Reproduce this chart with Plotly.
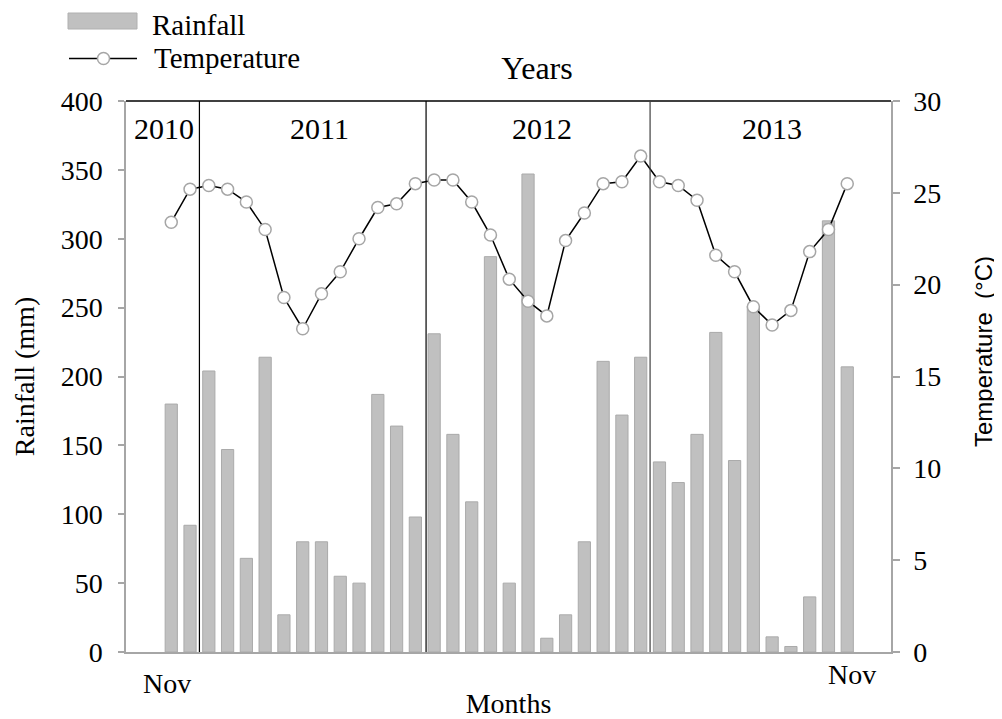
import plotly.graph_objects as go

# ---- data (Nov 2010 .. Nov 2013) ----
month_labels = [
    "Nov 2010", "Dec 2010",
    "Jan 2011", "Feb 2011", "Mar 2011", "Apr 2011", "May 2011", "Jun 2011",
    "Jul 2011", "Aug 2011", "Sep 2011", "Oct 2011", "Nov 2011", "Dec 2011",
    "Jan 2012", "Feb 2012", "Mar 2012", "Apr 2012", "May 2012", "Jun 2012",
    "Jul 2012", "Aug 2012", "Sep 2012", "Oct 2012", "Nov 2012", "Dec 2012",
    "Jan 2013", "Feb 2013", "Mar 2013", "Apr 2013", "May 2013", "Jun 2013",
    "Jul 2013", "Aug 2013", "Sep 2013", "Oct 2013", "Nov 2013",
]
rainfall = [180, 92,
            204, 147, 68, 214, 27, 80, 80, 55, 50, 187, 164, 98,
            231, 158, 109, 287, 50, 347, 10, 27, 80, 211, 172, 214,
            138, 123, 158, 232, 139, 251, 11, 4, 40, 313, 207]
temperature = [23.4, 25.2,
               25.4, 25.2, 24.5, 23.0, 19.3, 17.6, 19.5, 20.7, 22.5, 24.2, 24.4, 25.5,
               25.7, 25.7, 24.5, 22.7, 20.3, 19.1, 18.3, 22.4, 23.9, 25.5, 25.6, 27.0,
               25.6, 25.4, 24.6, 21.6, 20.7, 18.8, 17.8, 18.6, 21.8, 23.0, 25.5]
years = ["2010", "2011", "2012", "2013"]
year_boundaries = [1.5, 13.57, 25.5]

x = list(range(len(rainfall)))

SERIF = "Liberation Serif"
SANS = "Liberation Sans"
GRAY = "#a6a6a6"

# The page body has an 8px margin, so the figure is drawn 8px in from the corner.
OFF = 8
W, H = 1002 - OFF, 719 - OFF
# plot area in page pixels
PL, PR, PT, PB = 126, 891, 101, 652
PW, PH = PR - PL, PB - PT
def px(xp):
    return (xp - PL) / PW
def py(yp):
    return (PB - yp) / PH

fig = go.Figure()
fig.add_trace(go.Bar(
    x=x, y=rainfall, name="Rainfall", width=0.65,
    marker=dict(color="#c0c0c0", line=dict(color="#aaaaaa", width=1)),
    hovertext=month_labels, showlegend=False, yaxis="y",
))
fig.add_trace(go.Scatter(
    x=x, y=temperature, name="Temperature", mode="lines+markers",
    line=dict(color="black", width=1.5),
    marker=dict(symbol="circle", size=12, color="white",
                line=dict(color=GRAY, width=1.5)),
    hovertext=month_labels, showlegend=False, yaxis="y2",
))

shapes = []
# top border
shapes.append(dict(type="line", xref="paper", yref="paper", x0=0, x1=1, y0=1, y1=1,
                   line=dict(color="black", width=1.5)))
# year boundaries
for i, b in enumerate(year_boundaries):
    shapes.append(dict(type="line", xref="x", yref="paper", x0=b, x1=b, y0=0, y1=1,
                       line=dict(color="black" if i < 2 else "#404040", width=1.2)))
# manual legend
shapes.append(dict(type="rect", xref="paper", yref="paper",
                   x0=px(68), x1=px(137), y0=py(29), y1=py(13),
                   fillcolor="#c0c0c0", line=dict(color="#b0b0b0", width=1)))
shapes.append(dict(type="line", xref="paper", yref="paper",
                   x0=px(69), x1=px(137), y0=py(58.5), y1=py(58.5),
                   line=dict(color="black", width=1.5)))
shapes.append(dict(type="circle", xref="paper", yref="paper",
                   xsizemode="pixel", ysizemode="pixel",
                   xanchor=px(103.5), yanchor=py(58.5),
                   x0=-6, x1=6, y0=-6, y1=6,
                   fillcolor="white", line=dict(color=GRAY, width=1.5)))

annotations = []
annotations.append(dict(text="Rainfall", xref="paper", yref="paper", x=px(152), y=py(OFF + 0.5),
                        xanchor="left", yanchor="top", showarrow=False,
                        borderpad=0, borderwidth=0,
                        font=dict(family=SERIF, size=29, color="black")))
annotations.append(dict(text="Temperature", xref="paper", yref="paper", x=px(152), y=py(58),
                        xanchor="left", yanchor="middle", showarrow=False,
                        font=dict(family=SERIF, size=29, color="black")))
year_x = [-0.36, 7.92, 19.77, 32.0]
for yr, xv in zip(years, year_x):
    annotations.append(dict(text=yr, xref="x", yref="y", x=xv, y=380,
                            xanchor="center", yanchor="middle", showarrow=False,
                            font=dict(family=SERIF, size=30, color="black")))
annotations.append(dict(text="Nov", xref="x", yref="paper", x=-0.24, y=py(683),
                        xanchor="center", yanchor="middle", showarrow=False,
                        font=dict(family=SERIF, size=28, color="black")))
annotations.append(dict(text="Nov", xref="x", yref="paper", x=36.23, y=py(674),
                        xanchor="center", yanchor="middle", showarrow=False,
                        font=dict(family=SERIF, size=28, color="black")))
# right-hand axis title (sits above the axis centre in the reference)
annotations.append(dict(text="Temperature  (°C)", xref="paper", yref="paper",
                        x=px(983), y=py(352), textangle=-90,
                        xanchor="center", yanchor="middle", showarrow=False,
                        font=dict(family=SANS, size=24, color="black")))

fig.update_layout(
    width=W, height=H,
    margin=dict(l=PL - OFF, r=W - (PR - OFF), t=PT - OFF, b=H - (PB - OFF),
                autoexpand=False),
    paper_bgcolor="white", plot_bgcolor="white",
    font=dict(family=SERIF, size=27, color="black"),
    title=dict(text="Years", x=(537 - OFF) / W, xref="container", xanchor="center",
               y=1 - (68 - OFF) / H, yref="container", yanchor="middle",
               font=dict(family=SERIF, size=32, color="black")),
    xaxis=dict(range=[-2.41, 38.33], showgrid=False, zeroline=False,
               showticklabels=False, ticks="",
               showline=True, linecolor=GRAY, linewidth=2,
               title=dict(text="Months", standoff=40,
                          font=dict(family=SERIF, size=28)),
               automargin=False),
    yaxis=dict(range=[0, 400], dtick=50, showgrid=False, zeroline=False,
               showline=True, linecolor=GRAY, linewidth=1.5,
               ticks="outside", ticklen=6, tickcolor=GRAY, tickwidth=1.5,
               ticklabelstandoff=10,
               tickfont=dict(family=SERIF, size=28),
               title=dict(text="Rainfall (mm)", standoff=18,
                          font=dict(family=SERIF, size=28)),
               automargin=False),
    yaxis2=dict(range=[0, 30], dtick=5, overlaying="y", side="right",
                showgrid=False, zeroline=False,
                showline=True, linecolor=GRAY, linewidth=1.5,
                ticks="outside", ticklen=7, tickcolor=GRAY, tickwidth=1.5,
                ticklabelstandoff=8,
                tickfont=dict(family=SERIF, size=28),
                automargin=False),
    shapes=shapes,
    annotations=annotations,
)

fig.write_html("out.html")
